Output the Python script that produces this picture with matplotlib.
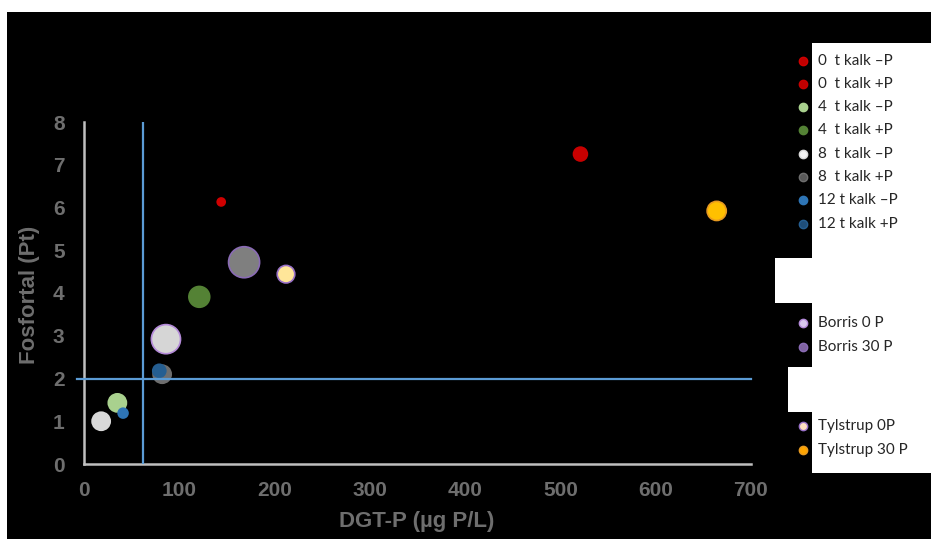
import matplotlib.pyplot as plt
from matplotlib.patches import Rectangle
from matplotlib.lines import Line2D

# data
labels = ['0  t kalk \u2013P', '0  t kalk +P', '4  t kalk \u2013P', '4  t kalk +P',
          '8  t kalk \u2013P', '8  t kalk +P', '12 t kalk \u2013P', '12 t kalk +P',
          'Borris 0 P', 'Borris 30 P', 'Tylstrup 0P', 'Tylstrup 30 P']
dgt_p = [144, 521, 35, 121, 18, 82, 41, 79, 86, 168, 212, 664]
fosfortal = [6.13, 7.25, 1.43, 3.91, 1.0, 2.1, 1.19, 2.18, 2.92, 4.72, 4.44, 5.92]
sizes = [33, 100, 170, 225, 170, 170, 50, 88, 440, 500, 160, 190]
face_colors = ['#D00000', '#C80000', '#A9D18E', '#548235', '#D9D9D9', '#6E6E6E',
               '#2E75B6', '#255E91', '#D6D6D6', '#7F7F7F', '#FFE699', '#FFC000']
edge_colors = ['#D00000', '#C80000', '#A9D18E', '#548235', '#D9D9D9', '#6E6E6E',
               '#2E75B6', '#255E91', '#B48AD9', '#8A6BB5', '#9A72C8', '#E89A20']
legend_faces = ['#C00000', '#C00000', '#A9D18E', '#548235', '#F2F2F2', '#595959',
                '#2E75B6', '#1F4E79', '#D9C8EE', '#8064A2', '#FFE0C0', '#FFA500']
legend_y_px = [61, 84, 107, 130, 154, 177, 200, 224, 323, 347, 426, 450]

x_ref = 62     # vertical reference line
y_ref = 1.98   # horizontal reference line

W, H = 931, 539


def fx(x):
    return x / W


def fy(y):
    return 1 - y / H


fig = plt.figure(figsize=(W / 100, H / 100), dpi=100, facecolor='white')

# black panel and white legend boxes (behind the axes)
fig.patches.append(Rectangle((fx(7), 0), 1 - fx(7), fy(12), transform=fig.transFigure,
                             facecolor='black', edgecolor='none', zorder=-2))
fig.patches.append(Rectangle((fx(812), fy(473)), 1 - fx(812), fy(43) - fy(473),
                             transform=fig.transFigure, facecolor='white', edgecolor='none', zorder=-1))
fig.patches.append(Rectangle((fx(775), fy(303)), fx(812) - fx(775), fy(258) - fy(303),
                             transform=fig.transFigure, facecolor='white', edgecolor='none', zorder=-1))
fig.patches.append(Rectangle((fx(788), fy(412)), fx(812) - fx(788), fy(367) - fy(412),
                             transform=fig.transFigure, facecolor='white', edgecolor='none', zorder=-1))

ax = fig.add_axes([fx(84), fy(464), fx(751) - fx(84), fy(122) - fy(464)])
ax.set_facecolor('none')

ax.scatter(dgt_p, fosfortal, s=sizes, c=face_colors, edgecolors=edge_colors,
           linewidths=1.2, zorder=2)

ax.plot([x_ref, x_ref], [0, 8], color='#5B9BD5', lw=1.6, zorder=3)
ax.plot([-7, 700], [y_ref, y_ref], color='#5B9BD5', lw=1.6, zorder=3, clip_on=False)

ax.set_xlim(0, 700)
ax.set_ylim(0, 8)
ax.set_xticks(range(0, 701, 100))
ax.set_yticks(range(0, 9))

for side in ['top', 'right']:
    ax.spines[side].set_visible(False)
for side in ['left', 'bottom']:
    ax.spines[side].set_color('#BFBFBF')
    ax.spines[side].set_linewidth(1.8)

ax.tick_params(axis='both', length=0, colors='#6E6E6E')
ax.tick_params(axis='x', pad=12)
ax.tick_params(axis='y', pad=14)
for lab in ax.get_xticklabels() + ax.get_yticklabels():
    lab.set_fontfamily('Liberation Sans')
    lab.set_fontsize(15)
    lab.set_fontweight('bold')

fig.text(fx(417), fy(521), 'DGT-P (\u00b5g P/L)', ha='center', va='center',
         color='#6E6E6E', fontsize=16, fontweight='bold', family='Liberation Sans')
fig.text(fx(30), fy(295), 'Fosfortal (Pt)', ha='center', va='center', rotation=90,
         color='#6E6E6E', fontsize=16, fontweight='bold', family='Liberation Sans')

# legend, drawn by hand to keep the original gaps
for lab, fc, ec, ypx in zip(labels, legend_faces, edge_colors, legend_y_px):
    fig.lines.append(Line2D([fx(803)], [fy(ypx)], transform=fig.transFigure, marker='o',
                            markersize=6, markerfacecolor=fc, markeredgecolor=ec,
                            markeredgewidth=1, linestyle='none', zorder=3))
    fig.text(fx(818), fy(ypx), lab, ha='left', va='center', color='#262626',
             fontsize=11, family='Lato', zorder=3)

fig.savefig('out.png', dpi=100, facecolor=fig.get_facecolor())
